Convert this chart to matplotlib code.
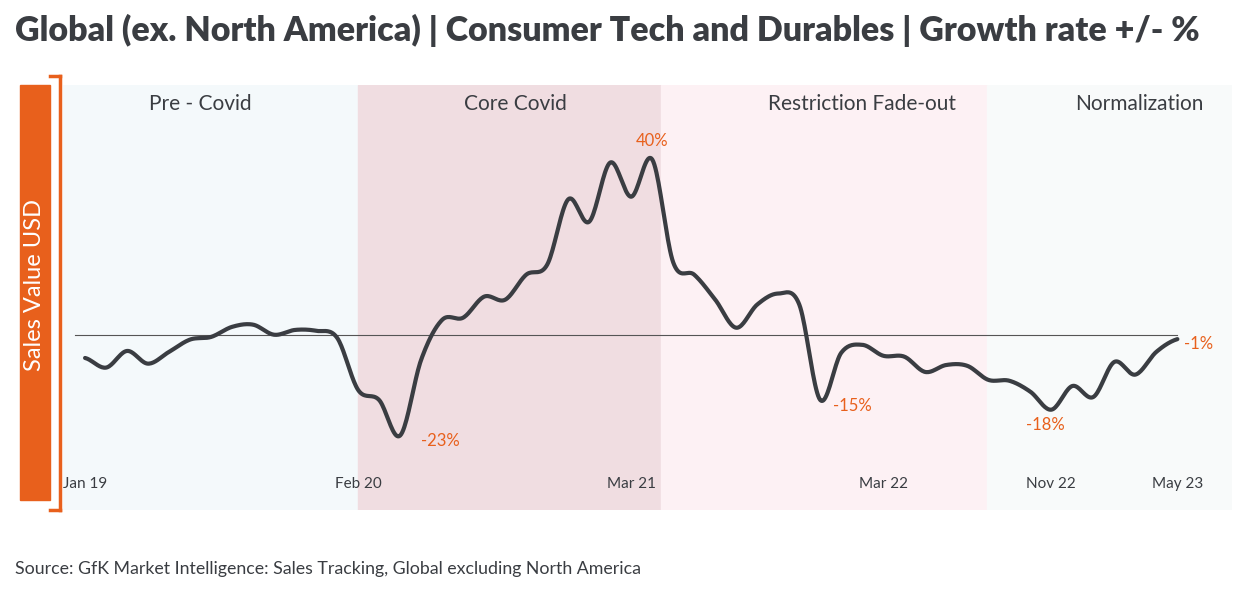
import numpy as np
import matplotlib.pyplot as plt
from matplotlib.patches import Rectangle

# monthly growth rate, Jan 2019 .. May 2023 (%)
growth = [-5.3, -7.5, -3.7, -6.6, -3.9, -1.1, -0.5, 1.8, 2.3, 0.0,
          1.1, 0.9, -0.7, -12.6, -14.9, -23.0, -5.7, 3.4, 3.9, 8.7,
          8.0, 13.7, 16.0, 30.9, 25.8, 39.3, 31.5, 40.0, 16.5, 13.7,
          8.0, 1.6, 6.9, 9.4, 6.9, -14.9, -4.1, -2.3, -4.8, -5.0,
          -8.5, -6.9, -7.1, -10.3, -10.5, -13.0, -17.1, -11.7, -14.2, -6.2,
          -9.1, -3.9, -1.0]
tick_pos = [0, 13, 26, 38, 46, 52]
tick_labels = ["Jan 19", "Feb 20", "Mar 21", "Mar 22", "Nov 22", "May 23"]
phases = ["Pre - Covid", "Core Covid", "Restriction Fade-out", "Normalization"]
phase_edges = [-1.05, 13, 27.4, 42.95, 54.6]
phase_label_x = [5.5, 20.5, 37, 50.2]
phase_colors = ["#f4f9fb", "#f0dde1", "#fdf1f4", "#f8fafa"]
callouts = [(27, 40, "40%"), (15.7, -23, "-23%"), (35.3, -15, "-15%"),
            (45.7, -18, "-18%"), (52, -1, "-1%")]

orange = "#e8601c"
dark = "#3a3d42"
plt.rcParams['font.family'] = ['Lato', 'DejaVu Sans']

fig = plt.figure(figsize=(12.33, 5.91), dpi=100)
ax = fig.add_axes([63/1233, 81/591, (1232-63)/1233, (510-85)/591])
ax.set_xlim(phase_edges[0], phase_edges[-1])
ax.set_ylim(-40, 57)
ax.axis('off')

for i, name in enumerate(phases):
    ax.axvspan(phase_edges[i], phase_edges[i+1], color=phase_colors[i], zorder=0)
    ax.text(phase_label_x[i], 55, name, ha='center', va='top', fontsize=15, color=dark)

ax.plot([-0.5, 52], [0, 0], color='#555555', lw=0.8, zorder=1)

# smooth display of the monthly points (Catmull-Rom)
y = np.array(growth)
x = np.arange(len(y))
p = np.concatenate([[y[0]], y, [y[-1]]])
xs, ys = [], []
t = np.linspace(0, 1, 20, endpoint=False)
for i in range(len(y) - 1):
    p0, p1, p2, p3 = p[i], p[i+1], p[i+2], p[i+3]
    seg = 0.5 * (2*p1 + (-p0 + p2)*t + (2*p0 - 5*p1 + 4*p2 - p3)*t**2
                 + (-p0 + 3*p1 - 3*p2 + p3)*t**3)
    xs.extend(x[i] + t)
    ys.extend(seg)
xs.append(x[-1]); ys.append(y[-1])
ax.plot(xs, ys, color=dark, lw=3, solid_capstyle='round', zorder=3)

for xp, yp, lab in callouts:
    if yp > 0:
        ax.text(xp, yp + 2.5, lab, ha='center', va='bottom', fontsize=12, color=orange)
    elif lab == "-18%":
        ax.text(xp, yp - 2.5, lab, ha='center', va='center', fontsize=12, color=orange)
    else:
        ax.text(xp + 0.3, yp - 1.2, lab, ha='left', va='center', fontsize=12, color=orange)

for xp, lab in zip(tick_pos, tick_labels):
    ax.text(xp, -34, lab, ha='center', va='center', fontsize=11, color=dark)

fig.text(15/1233, 1 - 30/591, "Global (ex. North America) | Consumer Tech and Durables | Growth rate +/- %",
         fontsize=24.5, fontweight='heavy', color=dark, va='center')
fig.text(15/1233, 1 - 569/591, "Source: GfK Market Intelligence: Sales Tracking, Global excluding North America",
         fontsize=12.8, color=dark, va='center')

# left axis badge
fig.patches.append(Rectangle((20/1233, 1 - 500/591), 30/1233, 415/591,
                             transform=fig.transFigure, color=orange))
fig.text(35/1233, 1 - 285/591, "Sales Value USD", rotation=90, ha='center',
         va='center', color='white', fontsize=17)
fig.add_artist(plt.Line2D([60/1233, 60/1233], [1 - 76/591, 1 - 510/591],
                          transform=fig.transFigure, color=orange, lw=2.5))
fig.add_artist(plt.Line2D([50/1233, 60/1233], [1 - 76/591, 1 - 76/591],
                          transform=fig.transFigure, color=orange, lw=2.5))
fig.add_artist(plt.Line2D([50/1233, 60/1233], [1 - 510/591, 1 - 510/591],
                          transform=fig.transFigure, color=orange, lw=2.5))

fig.savefig("out.png", dpi=100)
